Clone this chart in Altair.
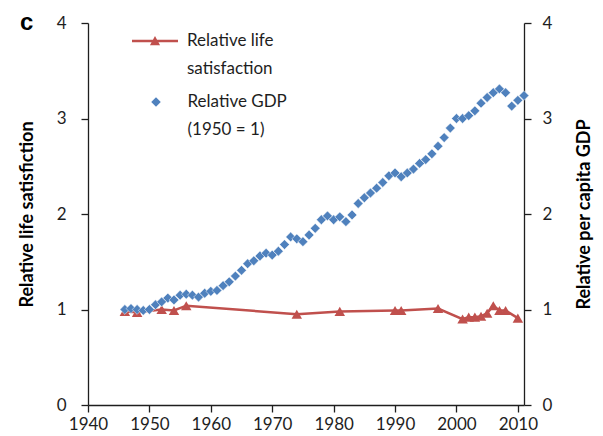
import altair as alt
import pandas as pd

# ---------------- data ----------------
life_years = [1946, 1948, 1952, 1954, 1956, 1974, 1981, 1990, 1991, 1997,
              2001, 2002, 2003, 2004, 2005, 2006, 2007, 2008, 2010]
life_values = [0.98, 0.97, 1.00, 0.99, 1.04, 0.95, 0.98, 0.99, 0.99, 1.01,
               0.90, 0.92, 0.92, 0.93, 0.96, 1.04, 0.99, 0.99, 0.91]

gdp_years = list(range(1946, 2012))
gdp_values = [1.00, 1.01, 1.00, 0.99, 1.00, 1.05, 1.08, 1.12, 1.10, 1.15,
              1.16, 1.15, 1.13, 1.17, 1.19, 1.20, 1.25, 1.29, 1.35, 1.41,
              1.48, 1.51, 1.56, 1.59, 1.57, 1.61, 1.68, 1.76, 1.74, 1.71,
              1.78, 1.85, 1.94, 1.98, 1.94, 1.97, 1.92, 1.99, 2.11, 2.17,
              2.22, 2.27, 2.33, 2.40, 2.43, 2.39, 2.43, 2.47, 2.53, 2.57,
              2.63, 2.71, 2.80, 2.90, 3.00, 3.00, 3.03, 3.08, 3.16, 3.22,
              3.27, 3.31, 3.27, 3.13, 3.19, 3.24]

x_ticks = [1940, 1950, 1960, 1970, 1980, 1990, 2000, 2010]
y_ticks = [0, 1, 2, 3, 4]

LIFE = "Relative life satisfaction"
GDP = "Relative GDP (1950 = 1)"
life_label_lines = ["Relative life", "satisfaction"]
gdp_label_lines = ["Relative GDP", "(1950 = 1)"]

RED = "#C0504D"
BLUE = "#4F81BD"
FONT = "Lato"
INK = "#1e1e1e"

life_df = pd.DataFrame({"year": life_years, "value": life_values, "series": LIFE})
gdp_df = pd.DataFrame({"year": gdp_years, "value": gdp_values, "series": GDP})

# line with a triangle for the legend symbol (filled shapes, same winding)
LINE_TRI = "M-1,-0.05H1V0.05H-1Z M-0.22,0.19L0,-0.22L0.22,0.19Z"

x_enc = alt.X(
    "year:Q",
    scale=alt.Scale(domain=[1940, 2011], nice=False, zero=False),
    axis=alt.Axis(values=x_ticks, format="d", title=None, labelPadding=4,
                  labelFlush=False),
)

y_left = alt.Y(
    "value:Q",
    scale=alt.Scale(domain=[0, 4], nice=False),
    axis=alt.Axis(orient="left", values=y_ticks, title="Relative life satisfiction",
                  labelPadding=15, titlePadding=20),
)

life_line = alt.Chart(life_df).mark_line(color=RED, strokeWidth=2.5).encode(
    x=x_enc, y=y_left
)

life_pts = alt.Chart(life_df).mark_point(
    shape="triangle-up", filled=True, size=110, opacity=1
).encode(
    x=x_enc,
    y=y_left,
    color=alt.Color(
        "series:N",
        scale=alt.Scale(domain=[LIFE], range=[RED]),
        legend=alt.Legend(
            title=None, orient="none", legendX=44, legendY=-5, padding=0,
            symbolType=LINE_TRI, symbolSize=2116, symbolStrokeWidth=0,
            labelExpr=str(life_label_lines), labelOffset=9,
            labelFont=FONT, labelFontSize=17, labelColor=INK, labelLimit=300,
        ),
    ),
)

life = alt.layer(life_line, life_pts)

gdp = alt.Chart(gdp_df).mark_point(
    shape="diamond", filled=True, size=96, opacity=1, stroke="white", strokeWidth=0.5
).encode(
    x=x_enc,
    y=alt.Y(
        "value:Q",
        scale=alt.Scale(domain=[0, 4], nice=False),
        axis=alt.Axis(orient="right", values=y_ticks, title="Relative per capita GDP",
                      labelPadding=11, titlePadding=24, titleAngle=270,
                      titleBaseline="top"),
    ),
    color=alt.Color(
        "series:N",
        scale=alt.Scale(domain=[GDP], range=[BLUE]),
        legend=alt.Legend(
            title=None, orient="none", legendX=59.5, legendY=70.5, padding=0,
            symbolType="diamond", symbolSize=90, symbolStrokeWidth=0,
            labelExpr=str(gdp_label_lines), labelOffset=23,
            labelFont=FONT, labelFontSize=17, labelColor=INK, labelLimit=300,
        ),
    ),
)

chart = alt.layer(life, gdp).resolve_scale(
    y="independent", color="independent"
).resolve_legend(color="independent").properties(
    width=436,
    height=382,
    autosize=alt.AutoSizeParams(type="none"),
    padding={"left": 80, "top": 15, "right": 71, "bottom": 31},
    title=alt.TitleParams("c", anchor="start", frame="group", font="Liberation Sans",
                          fontSize=24, fontWeight="bold", color="black",
                          dx=-68, dy=40, offset=0, baseline="alphabetic"),
).configure(
    style={"guide-label": {"lineHeight": 28}}
).configure_view(stroke=None).configure_axis(
    grid=False,
    domainColor=INK, domainWidth=1.3,
    tickColor=INK, tickWidth=1.3, tickSize=7,
    labelFont=FONT, labelFontSize=17, labelColor=INK,
    titleFont=FONT, titleFontSize=18, titleFontWeight="bold", titleColor="black",
)

chart.save("out.html", embed_options={"renderer": "svg", "actions": False})
